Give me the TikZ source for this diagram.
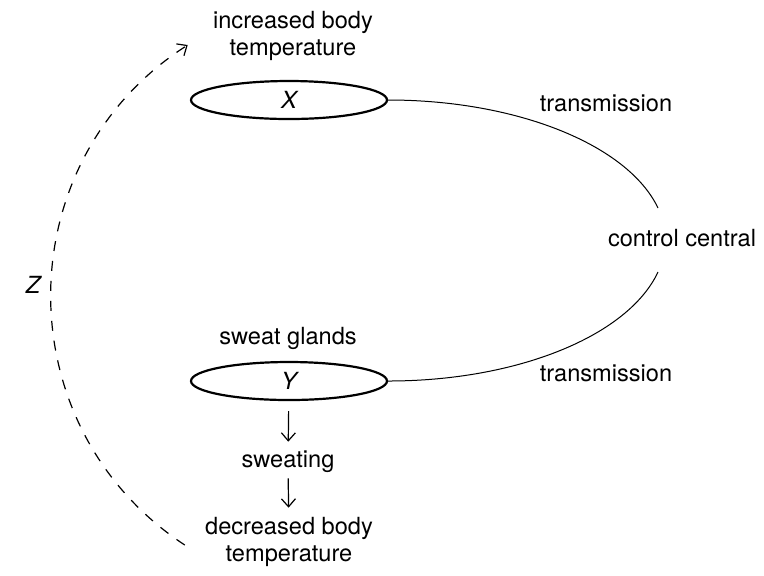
\documentclass[tikz,border=0pt]{standalone}
\usepackage{fontspec}
\setmainfont{TeX Gyre Heros}
\usetikzlibrary{arrows.meta, positioning, shapes.geometric}

\begin{document}
\begin{tikzpicture}[
        x=0.5pt, y=0.5pt,
        every node/.style={font=\fontsize{11.8}{13.75}\selectfont},
        organ/.style={ellipse, draw, line width=1.1pt, minimum width=98pt, minimum height=19pt, inner sep=0pt},
        txt/.style={align=center, inner sep=2pt},
        link/.style={line width=0.5pt},
        flow/.style={-{Straight Barb[length=4pt, width=7pt]}, line width=0.6pt},
        feedback/.style={-{Straight Barb[length=4pt, width=7pt]}, line width=0.6pt, dash pattern=on 5pt off 5pt}
    ]
        \useasboundingbox (0,0) rectangle (764,-575);

        % Effector chain
        \node[organ] (X) at (289,-100) {\itshape X};
        \node[organ] (Y) at (289,-381) {\itshape Y};
        \node[txt] (inc) at (293,-36) {increased body\\temperature};
        \node[txt] (glands) at (288,-338) {sweat glands};
        \node[txt] (sweat) at (288,-462) {sweating};
        \node[txt] (dec) at (289,-542) {decreased body\\temperature};

        % Control centre
        \node[txt] (ctrl) at (682,-238) {control central};
        \node[txt] (transA) at (606,-103) {transmission};
        \node[txt] (transB) at (606,-373) {transmission};
        \coordinate (ctop) at ([shift={(-24,30)}]ctrl.center);
        \coordinate (cbot) at ([shift={(-24,-34)}]ctrl.center);

        \draw[link] (X.east) .. controls +(129,0) and +(-30,63) .. (ctop);
        \draw[link] (Y.east) .. controls +(129,0) and +(-30,-64) .. (cbot);

        \draw[flow, shorten <=5pt, shorten >=2.5pt] (Y) -- (sweat);
        \draw[flow, shorten <=0.5pt, shorten >=2.5pt] (sweat) -- (dec);

        % Feedback loop
        \node[txt] (Z) at (33,-285) {\itshape Z};
        \coordinate (zlow) at ([shift={(-16,-3)}]dec.west);
        \coordinate (zup) at ([shift={(-21,-9)}]inc.west);
        \draw[feedback] (zlow) to[bend left=57, looseness=1.1] (zup);

    \end{tikzpicture}
\end{document}
